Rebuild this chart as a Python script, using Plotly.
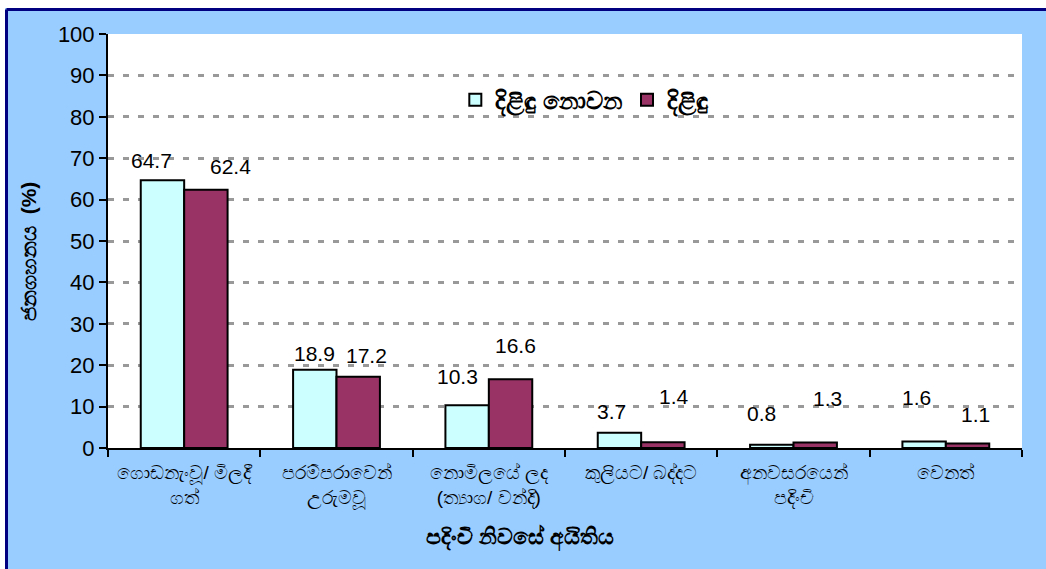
import plotly.graph_objects as go

categories = [
    "ගොඩනැංවූ/ මිලදී<br>ගත්",
    "පරම්පරාවෙන්<br>උරුමවූ",
    "නොමිලයේ ලද<br>(ත්‍යාග/ වන්දි)",
    "කුලියට/ බද්දට",
    "අනවසරයෙන්<br>පදිංචි",
    "වෙනත්",
]
non_poor = [64.7, 18.9, 10.3, 3.7, 0.8, 1.6]
poor = [62.4, 17.2, 16.6, 1.4, 1.3, 1.1]
series_names = ["දිළිඳු නොවන", "දිළිඳු"]
y_ticks = list(range(0, 101, 10))

# label nudges (px) to mimic the hand-placed labels of the original
non_poor_shift = [(-11, 20), (0, 16), (-10, 29), (-8, 21), (-10, 31), (-8, 44)]
poor_shift = [(25, 23), (8, 21), (5, 34), (11, 46), (12, 44), (8, 29)]

FONT = "Liberation Sans, Arial, sans-serif"
BG = "#99CCFF"
L, R, T, B = 108, 24, 34, 121
PW, PH = 1046 - L - R, 569 - T - B

fig = go.Figure()
fig.add_trace(go.Bar(
    x=categories, y=non_poor, name=series_names[0],
    marker=dict(color="#CCFFFF", line=dict(color="black", width=2)),
))
fig.add_trace(go.Bar(
    x=categories, y=poor, name=series_names[1],
    marker=dict(color="#993366", line=dict(color="black", width=2)),
))

# data labels
bar_off = PW / 6 * 0.57 / 4
for vals, shifts, side in [(non_poor, non_poor_shift, -1), (poor, poor_shift, 1)]:
    for cat, v, (dx, dy) in zip(categories, vals, shifts):
        fig.add_annotation(
            x=cat, y=v, text=f"{v}", showarrow=False,
            xshift=side * bar_off + dx, yshift=dy,
            font=dict(family=FONT, size=21, color="black"),
        )

# axis titles
fig.add_annotation(
    x=(520 - L) / PW, y=(569 - B - 537) / PH, xref="paper", yref="paper",
    xanchor="center", yanchor="middle",
    text="<b>පදිංචි නිවසේ අයිතිය</b>", showarrow=False,
    font=dict(family=FONT, size=22),
)
fig.add_annotation(
    x=-(L - 28) / PW, y=(569 - B - 252) / PH, xref="paper", yref="paper",
    xanchor="center", yanchor="middle",
    text="<b>ජනගහනය  (%)</b>", showarrow=False, textangle=-90,
    font=dict(family=FONT, size=21),
)

# white strip + dark blue frame at top and left of chart area
top_w = (PH + T - 8) / PH
left_w = -(L - 5) / PW
fig.add_shape(type="rect", xref="paper", yref="paper", layer="below",
              x0=-0.2, x1=1.1, y0=top_w, y1=1.2,
              fillcolor="white", line=dict(width=0))
fig.add_shape(type="rect", xref="paper", yref="paper", layer="below",
              x0=-0.2, x1=left_w, y0=-0.4, y1=1.2,
              fillcolor="white", line=dict(width=0))
top = (PH + T - 9.5) / PH
left = -(L - 6.5) / PW
fig.add_shape(type="line", xref="paper", yref="paper",
              x0=left, x1=1.1, y0=top, y1=top,
              line=dict(color="#000080", width=3))
fig.add_shape(type="line", xref="paper", yref="paper",
              x0=left, x1=left, y0=-0.4, y1=top,
              line=dict(color="#000080", width=3))

fig.update_layout(
    width=1046, height=569,
    paper_bgcolor=BG, plot_bgcolor="white",
    margin=dict(l=L, r=R, t=T, b=B),
    barmode="group", bargap=0.43, bargroupgap=0,
    font=dict(family=FONT, size=18, color="black"),
    showlegend=True,
    legend=dict(
        orientation="h", x=0.38, y=0.84, xanchor="left", yanchor="middle",
        bgcolor="rgba(0,0,0,0)", font=dict(size=24, family=FONT, weight="bold"),
        itemwidth=30, traceorder="normal",
    ),
    xaxis=dict(
        showline=True, linecolor="black", linewidth=2,
        ticks="outside", ticklen=7, tickwidth=2, tickcolor="black",
        tickson="boundaries", automargin=False, ticklabelstandoff=6,
        tickfont=dict(size=19, family=FONT),
    ),
    yaxis=dict(
        range=[0, 100], tickvals=y_ticks, automargin=False,
        showline=True, linecolor="black", linewidth=2,
        ticks="outside", ticklen=7, tickwidth=2, tickcolor="black",
        showgrid=True, gridcolor="#999999", gridwidth=3, griddash="6px,9px",
        zeroline=False,
        tickfont=dict(size=22, family=FONT),
    ),
)

fig.write_html("out.html", config={"displayModeBar": False},
               post_script="document.body.style.margin='0px';")
